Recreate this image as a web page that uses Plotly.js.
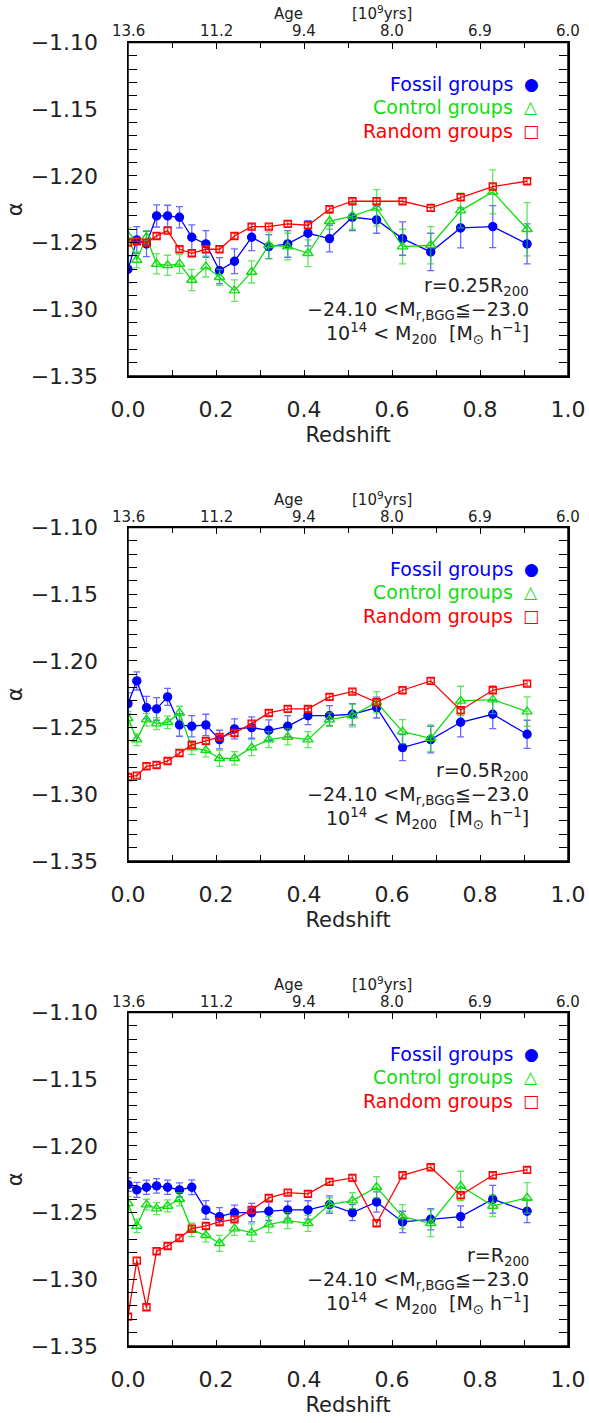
<!DOCTYPE html>
<html><head><meta charset="utf-8">
<script src="https://cdn.plot.ly/plotly-3.0.1.min.js"></script>
<style>html,body{margin:0;padding:0;background:#fff;overflow:hidden}#chart{display:block}</style>
</head><body><div id="chart" style="width:589px;height:1423px"></div>
<script>
// ---- data ----
const redshift = [0.0,0.02,0.042,0.065,0.09,0.117,0.145,0.177,0.208,0.242,0.281,0.32,0.363,0.409,0.458,0.51,0.565,0.624,0.688,0.756,0.829,0.907];

const fossil_025 = [-1.270,-1.248,-1.251,-1.230,-1.230,-1.231,-1.246,-1.251,-1.271,-1.264,-1.246,-1.253,-1.251,-1.243,-1.247,-1.231,-1.233,-1.247,-1.257,-1.239,-1.238,-1.251];
const fossilErr_025 = [0.010,0.010,0.0095,0.0083,0.008,0.008,0.0093,0.010,0.0097,0.0093,0.010,0.009,0.010,0.0095,0.010,0.010,0.010,0.0125,0.014,0.015,0.0157,0.015];
const control_025 = [-1.245,-1.263,-1.246,-1.266,-1.267,-1.266,-1.278,-1.268,-1.276,-1.286,-1.272,-1.252,-1.253,-1.258,-1.234,-1.230,-1.224,-1.253,-1.252,-1.226,-1.212,-1.240];
const controlErr_025 = [0.006,0.006,0.005,0.0075,0.0075,0.007,0.008,0.0078,0.006,0.008,0.0083,0.010,0.010,0.010,0.006,0.010,0.0137,0.013,0.014,0.013,0.0165,0.020];
const random_025 = [-1.250,-1.249,-1.250,-1.245,-1.241,-1.255,-1.258,-1.255,-1.255,-1.245,-1.238,-1.238,-1.236,-1.237,-1.225,-1.219,-1.219,-1.219,-1.224,-1.216,-1.208,-1.204];
const randomErr_025 = [0.002,0.002,0.002,0.002,0.002,0.002,0.002,0.002,0.002,0.002,0.002,0.002,0.002,0.002,0.002,0.002,0.002,0.002,0.002,0.002,0.002,0.002];

const fossil_05 = [-1.232,-1.215,-1.235,-1.236,-1.227,-1.248,-1.249,-1.248,-1.259,-1.251,-1.250,-1.252,-1.249,-1.241,-1.241,-1.240,-1.235,-1.265,-1.259,-1.246,-1.240,-1.255];
const fossilErr_05 = [0.008,0.0068,0.0084,0.0085,0.0064,0.0085,0.008,0.008,0.007,0.0075,0.008,0.0078,0.008,0.0068,0.0075,0.008,0.0078,0.0098,0.010,0.011,0.0107,0.0105];
const control_05 = [-1.243,-1.259,-1.244,-1.247,-1.246,-1.239,-1.265,-1.267,-1.273,-1.273,-1.265,-1.259,-1.257,-1.259,-1.244,-1.241,-1.231,-1.253,-1.258,-1.230,-1.229,-1.238];
const controlErr_05 = [0.005,0.0045,0.0047,0.0045,0.0048,0.005,0.005,0.005,0.006,0.005,0.006,0.006,0.006,0.006,0.005,0.0085,0.008,0.009,0.010,0.011,0.0105,0.011];
const random_05 = [-1.287,-1.286,-1.279,-1.278,-1.275,-1.269,-1.263,-1.260,-1.257,-1.254,-1.247,-1.239,-1.236,-1.236,-1.227,-1.223,-1.231,-1.222,-1.215,-1.237,-1.222,-1.217];
const randomErr_05 = [0.002,0.002,0.002,0.002,0.002,0.002,0.002,0.002,0.002,0.002,0.002,0.002,0.002,0.002,0.002,0.002,0.002,0.002,0.002,0.002,0.002,0.002];

const fossil_1 = [-1.229,-1.233,-1.231,-1.230,-1.231,-1.233,-1.231,-1.248,-1.253,-1.250,-1.250,-1.249,-1.248,-1.248,-1.244,-1.250,-1.242,-1.257,-1.255,-1.253,-1.240,-1.249];
const fossilErr_1 = [0.005,0.0056,0.0054,0.0054,0.0053,0.0053,0.0056,0.007,0.0067,0.0056,0.0069,0.0069,0.0066,0.0069,0.0065,0.006,0.0076,0.008,0.008,0.008,0.0104,0.0085];
const control_1 = [-1.243,-1.260,-1.244,-1.247,-1.245,-1.240,-1.263,-1.267,-1.273,-1.262,-1.265,-1.259,-1.256,-1.258,-1.244,-1.241,-1.231,-1.253,-1.258,-1.230,-1.245,-1.239];
const controlErr_1 = [0.005,0.005,0.004,0.0045,0.0045,0.005,0.005,0.005,0.006,0.005,0.0065,0.006,0.006,0.006,0.005,0.006,0.008,0.009,0.010,0.011,0.008,0.0115];
const random_1 = [-1.328,-1.286,-1.321,-1.279,-1.275,-1.269,-1.262,-1.260,-1.257,-1.255,-1.248,-1.239,-1.235,-1.236,-1.227,-1.224,-1.258,-1.222,-1.216,-1.237,-1.222,-1.218];
const randomErr_1 = [0.002,0.002,0.002,0.002,0.002,0.002,0.002,0.002,0.002,0.002,0.002,0.002,0.002,0.002,0.002,0.002,0.002,0.002,0.002,0.002,0.002,0.002];

const ageTickZ = [0.0,0.2,0.4,0.6,0.8,1.0];
const ageTickText = ['13.6','11.2','9.4','8.0','6.9','6.0'];
const radiusLabels = ['r=0.25R<sub>200</sub>','r=0.5R<sub>200</sub>','r=R<sub>200</sub>'];
const seriesNames = ['Fossil groups','Control groups','Random groups'];
const seriesSymbols = ['●','△','□'];

// ---- styling ----
const BLUE='#0000ff', GREEN='#10dd10', RED='#ff0000';
const colors=[BLUE,GREEN,RED];
const FONT='DejaVu Sans, sans-serif';
const TXT='#222';

const panels = [
  {f:fossil_025,fe:fossilErr_025,c:control_025,ce:controlErr_025,r:random_025,re:randomErr_025},
  {f:fossil_05,fe:fossilErr_05,c:control_05,ce:controlErr_05,r:random_05,re:randomErr_05},
  {f:fossil_1,fe:fossilErr_1,c:control_1,ce:controlErr_1,r:random_1,re:randomErr_1}
];

const H=1423, T=42, B=77;
const plotH = H-T-B;
const frameTops=[42.5,527.5,1012.5], ph=333.5;

const data=[]; const layout={
  width:589,height:H,margin:{l:128,r:21,t:T,b:B},
  paper_bgcolor:'#fff',plot_bgcolor:'#fff',showlegend:false,
  font:{family:FONT,color:TXT},annotations:[],shapes:[]
};

panels.forEach((p,i)=>{
  const xb = i===0?'x':'x'+(2*i+1);
  const xt = 'x'+(2*i+2);
  const yy = i===0?'y':'y'+(i+1);
  const yr = 'y'+(i+4);
  const xbKey = i===0?'xaxis':'xaxis'+(2*i+1);
  const xtKey = 'xaxis'+(2*i+2);
  const yKey = i===0?'yaxis':'yaxis'+(i+1);
  const yrKey = 'yaxis'+(i+4);
  const top = 1-(frameTops[i]-T)/plotH;
  const bot = 1-(frameTops[i]+ph-T)/plotH;
  const sets=[[p.f,p.fe,BLUE,'circle',8,'rgba(40,40,255,0.7)'],
              [p.c,p.ce,GREEN,'triangle-up-open',9,'rgba(30,220,30,0.7)'],
              [p.r,p.re,RED,'square-open',7,'rgba(255,40,40,0.8)']];
  sets.forEach((s,k)=>{
    data.push({x:redshift,y:s[0],xaxis:xb,yaxis:yy,type:'scatter',mode:'lines+markers',
      line:{color:s[2],width:1.3},
      marker:{symbol:s[3],size:s[4],color:s[2],line:{color:s[2],width:1.4}},
      error_y:{type:'data',array:s[1],visible:true,color:s[5],thickness:1.3,width:3.5},
      cliponaxis:true,name:seriesNames[k]});
  });
  // empty traces so that the top (age) axis and right axis get drawn
  data.push({x:[],y:[],xaxis:xt,yaxis:yy,type:'scatter',mode:'markers',hoverinfo:'skip'});
  data.push({x:[],y:[],xaxis:xb,yaxis:yr,type:'scatter',mode:'markers',hoverinfo:'skip'});

  layout[xbKey]={domain:[0,1],anchor:yy,range:[0,1],showline:true,linecolor:'#000',linewidth:1.5,
    mirror:false,ticks:'inside',ticklen:6,tickwidth:1,tickcolor:'#000',dtick:0.2,tick0:0,tickformat:'.1f',
    minor:{dtick:0.1,tick0:0,ticks:'inside',ticklen:6,tickcolor:'#000'},
    showgrid:false,zeroline:false,tickfont:{size:22,family:FONT,color:TXT},ticklabelstandoff:13,
    title:{text:'Redshift',font:{size:21,family:FONT,color:TXT},standoff:6},automargin:false};
  layout[xtKey]={overlaying:xb,anchor:yy,side:'top',range:[0,1],showline:true,linecolor:'#000',linewidth:1.5,
    tickmode:'array',tickvals:ageTickZ,ticktext:ageTickText,ticks:'inside',ticklen:6,tickcolor:'#000',
    minor:{tickmode:'linear',dtick:0.1,tick0:0,ticks:'inside',ticklen:5,tickcolor:'#000'},
    showticklabels:false,showgrid:false,zeroline:false,automargin:false};
  layout[yKey]={domain:[bot,top],anchor:xb,range:[-1.35,-1.10],showline:true,linecolor:'#000',linewidth:1.5,
    mirror:'allticks',ticks:'inside',ticklen:9,tickcolor:'#000',dtick:0.05,tick0:-1.35,tickformat:'.2f',
    minor:{dtick:0.01,tick0:-1.35,ticks:'inside',ticklen:5,tickcolor:'#000'},
    showgrid:false,zeroline:false,tickfont:{size:22,family:FONT,color:TXT},ticklabelstandoff:24,
    title:{text:'α',font:{size:21,family:FONT,color:TXT},standoff:2},automargin:false};
  layout[yrKey]={overlaying:yy,anchor:'free',position:1,side:'right',range:[-1.35,-1.10],showline:true,linecolor:'#000',linewidth:1.5,
    ticks:'inside',ticklen:9,tickcolor:'#000',dtick:0.05,tick0:-1.35,showticklabels:false,
    minor:{dtick:0.01,tick0:-1.35,ticks:'inside',ticklen:5,tickcolor:'#000'},
    showgrid:false,zeroline:false,automargin:false};

  const yd = yy+' domain';
  const xd = xb+' domain';
  // frame
  layout.shapes.push({type:'rect',xref:xd,yref:yd,x0:0,x1:1,y0:0,y1:1,line:{color:'#000',width:1.5},fillcolor:'rgba(0,0,0,0)',layer:'above'});
  // age tick labels (top axis)
  ageTickZ.forEach((z,j)=>{
    layout.annotations.push({xref:xb,yref:yd,x:z,y:1,yanchor:'middle',xanchor:'center',yshift:11,
      text:ageTickText[j],showarrow:false,font:{size:15,family:FONT,color:TXT}});
  });
  // Age title
  layout.annotations.push({xref:xb,yref:yd,x:0.365,y:1,yanchor:'middle',xanchor:'center',yshift:28,
    text:'Age',showarrow:false,font:{size:15,family:FONT,color:TXT}});
  layout.annotations.push({xref:xb,yref:yd,x:0.578,y:1,yanchor:'middle',xanchor:'center',yshift:29,
    text:'[10<sup>9</sup>yrs]',showarrow:false,font:{size:15,family:FONT,color:TXT}});
  // legend
  const legY=[0.8756,0.8057,0.7346];
  for(let k=0;k<3;k++){
    layout.annotations.push({xref:xb,yref:yd,x:0.879,y:legY[k],xanchor:'right',yanchor:'middle',
      text:seriesNames[k],showarrow:false,font:{size:19,family:FONT,color:colors[k]}});
    layout.annotations.push({xref:xb,yref:yd,x:0.916,y:legY[k],xanchor:'center',yanchor:'middle',
      text:seriesSymbols[k],showarrow:false,font:{size:17,family:FONT,color:colors[k]}});
  }
  // info text
  const infoY=[0.2678,0.1979,0.1289];
  const info=[radiusLabels[i],'−24.10 &lt;M<sub>r,BGG</sub>≦−23.0','10<sup>14</sup> &lt; M<sub>200</sub>  [M<sub>⊙</sub> h<sup>−1</sup>]'];
  for(let k=0;k<3;k++){
    layout.annotations.push({xref:xb,yref:yd,x:0.915,y:infoY[k],xanchor:'right',yanchor:'middle',
      text:info[k],showarrow:false,font:{size:19,family:FONT,color:TXT}});
  }
});

Plotly.newPlot('chart',data,layout,{displayModeBar:false,staticPlot:true});
</script></body></html>
